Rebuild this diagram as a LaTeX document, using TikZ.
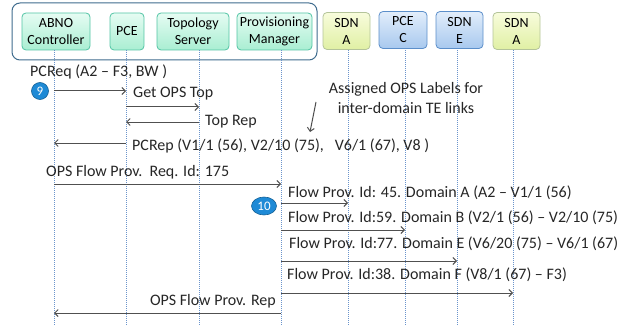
\documentclass[tikz,border=0pt]{standalone}
\usepackage{fontspec}
\setmainfont{Carlito}
\usetikzlibrary{shapes.geometric,arrows.meta}

\definecolor{mintline}{HTML}{52C4A4}
\definecolor{mintlight}{HTML}{E6FCF3}
\definecolor{mintdark}{HTML}{A9EED2}
\definecolor{limeline}{HTML}{B4C49A}
\definecolor{limelight}{HTML}{F8FCDC}
\definecolor{limedark}{HTML}{E0F0A4}
\definecolor{blueline}{HTML}{5C8FCA}
\definecolor{bluelight}{HTML}{E2EEFB}
\definecolor{bluedark}{HTML}{A8C8EE}
\definecolor{groupline}{HTML}{3F6C8E}
\definecolor{lifeblue}{HTML}{6A94CC}
\definecolor{msggray}{HTML}{505050}
\definecolor{stepblue}{HTML}{1E8AD6}

\tikzset{
  entity/.style={draw, rounded corners=4pt, line width=0.8pt, minimum height=37pt,
    align=center, inner sep=1pt, font=\fontsize{14}{17}\selectfont},
  ctrlbox/.style={entity, draw=mintline, top color=mintlight, bottom color=mintdark},
  sdnbox/.style={entity, draw=limeline, top color=limelight, bottom color=limedark},
  pcebox/.style={entity, draw=blueline, top color=bluelight, bottom color=bluedark},
  lifeline/.style={draw=lifeblue, densely dotted, line width=1pt},
  msg/.style={draw=msggray, line width=1pt, -{Straight Barb[length=3.5pt,width=7pt]}},
  msgtext/.style={font=\fontsize{16}{18}\selectfont, inner sep=0pt, text=black!85},
  stepmark/.style={ellipse, fill=stepblue, draw=stepblue!70!black, line width=0.6pt, text=white,
    inner sep=0pt, font=\fontsize{13}{13}\selectfont}
}

\begin{document}
\begin{tikzpicture}[x=1pt,y=-1pt]
	\useasboundingbox (0,0) rectangle (639,326);

	% controller group
	\draw[groupline, line width=1pt, rounded corners=8pt] (12,3) rectangle (317,60);

	\node[ctrlbox, minimum width=68pt] (abno) at (56,31.5) {ABNO\\Controller};
	\node[ctrlbox, minimum width=34pt] (pce) at (127,31.5) {PCE};
	\node[ctrlbox, minimum width=72pt] (topo) at (193,31.5) {Topology\\Server};
	\node[ctrlbox, minimum width=75pt] (prov) at (274.5,31.5) {Provisioning\\Manager};

	% domains
	\node[sdnbox, minimum width=47pt] (sdna) at (346.5,31) {SDN\\A};
	\node[pcebox, minimum width=48pt] (pcec) at (403,30) {PCE\\C};
	\node[pcebox, minimum width=47pt] (sdne) at (459.5,30) {SDN\\E};
	\node[sdnbox, minimum width=47pt] (sdnf) at (516.5,31) {SDN\\A};

	% lifelines
	\foreach \n/\x in {abno/54, pce/126, topo/199, prov/281, sdna/348, pcec/405, sdne/457, sdnf/513} {
		\coordinate (l-\n) at (\x,50);
		\draw[lifeline] (l-\n) -- (\x,326);
	}

	% path computation
	\node[msgtext, anchor=base west] (pcreq) at (30,77) {PCReq (A2 – F3, BW )};
	\draw[msg] (l-abno |- 0,91) -- (l-pce |- 0,91);
	\node[stepmark, minimum width=17pt, minimum height=17pt] (s9) at (40,91) {9};

	\node[msgtext, anchor=base west] (gettop) at (133,98) {Get OPS Top};
	\draw[msg] (l-pce |- 0,107) -- (l-topo |- 0,107);
	\node[msgtext, anchor=base west] (toprep) at (205,125) {Top Rep};
	\draw[msg] (l-topo |- 0,122) -- (l-pce |- 0,122);

	\node[msgtext, anchor=base west] (pcrep) at (132,150) {PCRep (V1/1 (56), V2/10 (75),\ \ \ V6/1 (67), V8 )};
	\draw[msg] (l-pce |- 0,143) -- (l-abno |- 0,143);

	\node[msgtext, align=center, font=\fontsize{16}{20}\selectfont] (labels) at (406,98) {Assigned OPS Labels for\\inter-domain TE links};
	\coordinate (lab-from) at (316,102);
	\coordinate (lab-to) at (310,132);
	\draw[msg] (lab-from) -- (lab-to);

	% provisioning
	\node[msgtext, anchor=base west] (flowreq) at (46,176) {OPS Flow Prov.\ \ Req. Id: 175};
	\draw[msg] (l-abno |- 0,184) -- (l-prov |- 0,184);
	\node[stepmark, minimum width=25pt, minimum height=18pt] (s10) at (264,206) {10};

	\node[msgtext, anchor=base west] (fa) at (288,197) {Flow Prov. Id: 45. Domain A (A2 – V1/1 (56)};
	\draw[msg] (l-prov |- 0,203) -- (l-sdna |- 0,203);
	\node[msgtext, anchor=base west] (fb) at (288,222) {Flow Prov. Id:59. Domain B (V2/1 (56) – V2/10 (75)};
	\draw[msg] (l-prov |- 0,230) -- (l-pcec |- 0,230);
	\node[msgtext, anchor=base west] (fe) at (289,248) {Flow Prov. Id:77. Domain E (V6/20 (75) – V6/1 (67)};
	\draw[msg] (l-prov |- 0,261) -- (l-sdne |- 0,261);
	\node[msgtext, anchor=base west] (ff) at (287,279) {Flow Prov. Id:38. Domain F (V8/1 (67) – F3)};
	\draw[msg] (l-prov |- 0,293) -- (l-sdnf |- 0,293);

	\node[msgtext, anchor=base east] (flowrep) at (276,305) {OPS Flow Prov. Rep};
	\draw[msg] (l-prov |- 0,313) -- (l-abno |- 0,313);
\end{tikzpicture}
\end{document}
